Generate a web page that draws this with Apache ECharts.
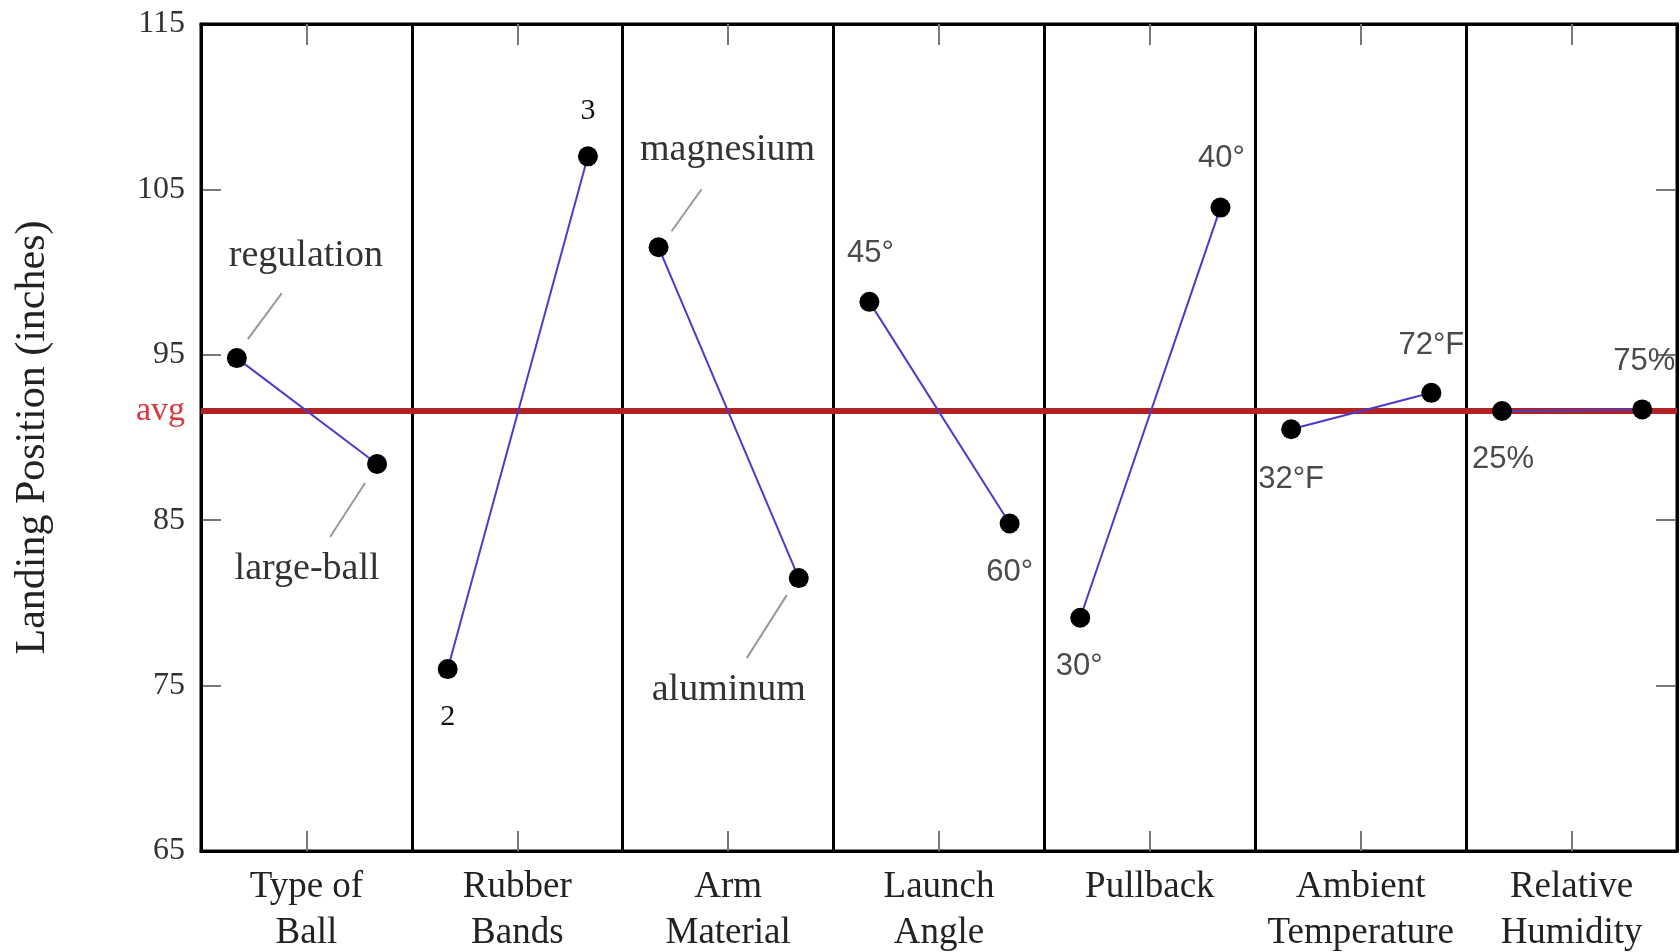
<!DOCTYPE html>
<html>
<head>
<meta charset="utf-8">
<title>Landing Position main effects</title>
<script src="https://cdn.jsdelivr.net/npm/echarts@6/dist/echarts.min.js"></script>
<style>
  html, body { margin: 0; padding: 0; background: #fff; }
  #main { width: 1680px; height: 952px; }
</style>
</head>
<body>
<div id="main"></div>
<script>
// factors along the bottom
var factors = ["Type of\nBall", "Rubber\nBands", "Arm\nMaterial", "Launch\nAngle", "Pullback", "Ambient\nTemperature", "Relative\nHumidity"];
// level names (left dot / right dot of each panel)
var firstLevels = ["regulation", "2", "magnesium", "45°", "30°", "32°F", "25%"];
var secondLevels = ["large-ball", "3", "aluminum", "60°", "40°", "72°F", "75%"];
// mean landing position for each level (inches)
var firstValues = [94.8, 76.0, 101.5, 98.2, 79.1, 90.5, 91.6];
var secondValues = [88.4, 107.0, 81.5, 84.8, 103.9, 92.7, 91.7];
var avgValue = 91.6;
var yTicks = [65, 75, 85, 95, 105, 115];

var serif = "'Liberation Serif', 'Times New Roman', serif";
var sans = "'Liberation Sans', Arial, sans-serif";

// how each panel's level labels look
var labelKinds = ["word", "num", "word", "unit", "unit", "unit", "unit"];
var kindStyle = {
  word: { fontFamily: serif, fontSize: 38, color: "#333" },
  num: { fontFamily: serif, fontSize: 30, color: "#111" },
  unit: { fontFamily: sans, fontSize: 31, color: "#4a4a4a" }
};
// label offset from dot centre (px)
var firstOffsets = [[69, -102], [0, 48], [69, -97], [1, -48], [-1, 49], [0, 50], [1, 48]];
var secondOffsets = [[-70, 105], [0, -45], [-70, 112], [0, 49], [1, -49], [0, -47], [2, -48]];
// where the two dots sit inside a panel (fraction of panel width)
var xFirst = 0.17, xSecond = 0.835;
// short grey leader lines between some labels and their dots (px from dot centre)
var leaders = [
  { panel: 0, dot: 0, from: [11, -19], to: [45, -65] },
  { panel: 0, dot: 1, from: [-12, 19], to: [-47, 73] },
  { panel: 2, dot: 0, from: [13, -16], to: [43, -58] },
  { panel: 2, dot: 1, from: [-12, 17], to: [-52, 80] }
];

function makePoint(i, frac, v, name, off) {
  var st = kindStyle[labelKinds[i]];
  return {
    name: name,
    value: [i + frac, v],
    label: {
      show: true,
      position: "inside",
      offset: off,
      formatter: "{b}",
      fontFamily: st.fontFamily,
      fontSize: st.fontSize,
      color: st.color
    }
  };
}

var series = factors.map(function (f, i) {
  return {
    type: "line",
    xAxisIndex: 1,
    yAxisIndex: 0,
    z: 10,
    silent: true,
    symbol: "circle",
    symbolSize: 20,
    itemStyle: { color: "#000" },
    lineStyle: { color: "#4a3cc8", width: 2 },
    data: [
      makePoint(i, xFirst, firstValues[i], firstLevels[i], firstOffsets[i]),
      makePoint(i, xSecond, secondValues[i], secondLevels[i], secondOffsets[i])
    ]
  };
});

series[0].markLine = {
  silent: true,
  symbol: "none",
  z: 5,
  lineStyle: { color: "#b22222", width: 6, type: "solid" },
  label: {
    show: true,
    position: "start",
    formatter: "avg",
    distance: 16,
    color: "#d9383e",
    fontFamily: serif,
    fontSize: 34
  },
  emphasis: { disabled: true },
  data: [{ yAxis: avgValue }]
};

var gridBox = { left: 201, top: 24, width: 1476, height: 827, outerBoundsMode: "none", containLabel: false };
var tickStyle = { color: "#777", width: 2 };

var dom = document.getElementById("main");
var myChart = echarts.init(dom, null, { renderer: "canvas" });

var option = {
  animation: false,
  backgroundColor: "#fff",
  grid: [
    Object.assign({ show: true, borderColor: "#000", borderWidth: 3 }, gridBox),
    Object.assign({ show: false }, gridBox)
  ],
  xAxis: [
    {
      // bottom axis: factor names, centre ticks, panel dividers
      type: "category",
      gridIndex: 0,
      position: "bottom",
      data: factors,
      boundaryGap: true,
      z: 4,
      axisLine: { show: true, lineStyle: { color: "#000", width: 3 } },
      axisTick: { show: true, inside: true, alignWithLabel: true, interval: 0, length: 20, lineStyle: tickStyle },
      axisLabel: {
        interval: 0,
        margin: 13,
        fontFamily: serif,
        fontSize: 37,
        lineHeight: 46,
        color: "#222"
      },
      splitLine: { show: true, interval: 0, lineStyle: { color: "#000", width: 3 } }
    },
    {
      // hidden numeric axis used to place the dots inside each panel
      type: "value",
      gridIndex: 0,
      position: "top",
      show: false,
      min: 0,
      max: factors.length
    },
    {
      // top axis: only the centre ticks
      type: "category",
      gridIndex: 1,
      position: "top",
      data: factors,
      boundaryGap: true,
      z: 4,
      axisLine: { show: true, lineStyle: { color: "#000", width: 3 } },
      axisTick: { show: true, inside: true, alignWithLabel: true, interval: 0, length: 21, lineStyle: tickStyle },
      axisLabel: { show: false },
      splitLine: { show: false }
    }
  ],
  yAxis: [
    {
      type: "value",
      gridIndex: 0,
      position: "left",
      min: yTicks[0],
      max: yTicks[yTicks.length - 1],
      interval: yTicks[1] - yTicks[0],
      z: 2,
      name: "Landing Position (inches)",
      nameLocation: "middle",
      nameGap: 147,
      nameTextStyle: { fontFamily: serif, fontSize: 42, color: "#222" },
      axisLine: { show: true, lineStyle: { color: "#000", width: 3 } },
      axisTick: { show: true, inside: true, length: 20, lineStyle: tickStyle },
      axisLabel: { margin: 16, fontFamily: serif, fontSize: 32, color: "#333" },
      splitLine: { show: false }
    },
    {
      type: "value",
      gridIndex: 0,
      position: "right",
      min: yTicks[0],
      max: yTicks[yTicks.length - 1],
      interval: yTicks[1] - yTicks[0],
      z: 2,
      axisLine: { show: true, lineStyle: { color: "#000", width: 3 } },
      axisTick: { show: true, inside: true, length: 21, lineStyle: tickStyle },
      axisLabel: { show: false },
      splitLine: { show: false }
    },
    {
      type: "value",
      gridIndex: 1,
      show: false,
      min: yTicks[0],
      max: yTicks[yTicks.length - 1]
    }
  ],
  series: series
};

myChart.setOption(option);

// leader lines, placed from the dots' pixel positions
var leaderLines = leaders.map(function (d) {
  var v = d.dot === 0
    ? [d.panel + xFirst, firstValues[d.panel]]
    : [d.panel + xSecond, secondValues[d.panel]];
  var p = myChart.convertToPixel({ seriesIndex: d.panel }, v);
  return {
    type: "line",
    silent: true,
    z: 9,
    shape: {
      x1: p[0] + d.from[0], y1: p[1] + d.from[1],
      x2: p[0] + d.to[0], y2: p[1] + d.to[1]
    },
    style: { stroke: "#999", lineWidth: 2 }
  };
});
myChart.setOption({ graphic: leaderLines });

window.addEventListener("resize", myChart.resize);
</script>
</body>
</html>
